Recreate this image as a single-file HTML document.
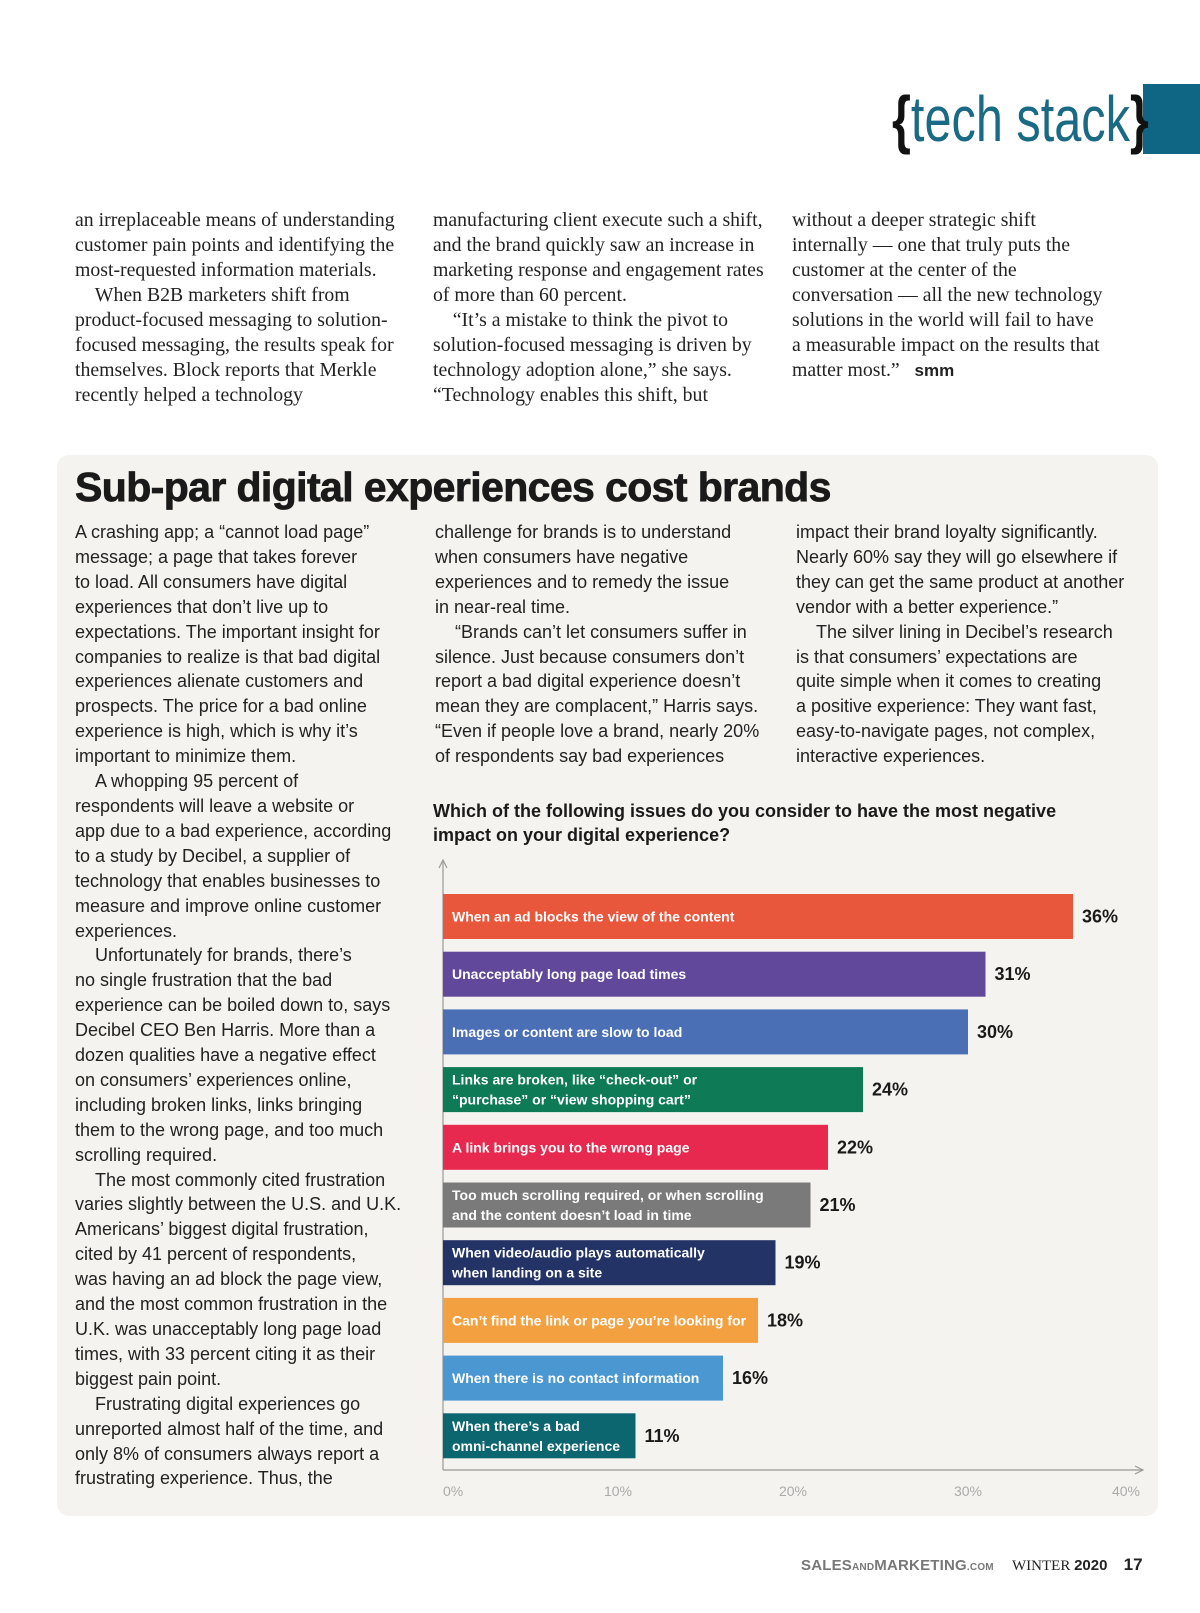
<!DOCTYPE html>
<html><head><meta charset="utf-8"><style>
body{margin:0;background:#fff;}
#page{position:relative;width:1200px;height:1613px;overflow:hidden;background:#fff;font-family:"Liberation Sans",sans-serif;}
.serif{position:absolute;font-family:"Liberation Serif",serif;font-size:19.8px;line-height:25px;color:#222;white-space:nowrap;}
.sans{position:absolute;font-family:"Liberation Sans",sans-serif;font-size:18px;line-height:24.9px;color:#222;white-space:nowrap;}
</style></head><body>
<div id="page">
<div style="position:absolute;left:1143px;top:84px;width:57px;height:70px;background:#0f6584;"></div>
<div style="position:absolute;left:892px;top:82px;font-size:64px;line-height:74px;color:#1a6a86;font-family:'Liberation Sans Narrow','Liberation Sans',sans-serif;transform:scaleX(0.76);transform-origin:left top;white-space:nowrap;"><span style="color:#111;font-weight:bold;">{</span>tech stack<span style="color:#111;font-weight:bold;">}</span></div>

<div class="serif" style="left:75px;top:208px;">an irreplaceable means of understanding<br>customer pain points and identifying the<br>most-requested information materials.<br>&nbsp;&nbsp;&nbsp;&nbsp;When B2B marketers shift from<br>product-focused messaging to solution-<br>focused messaging, the results speak for<br>themselves. Block reports that Merkle<br>recently helped a technology</div>
<div class="serif" style="left:433px;top:208px;">manufacturing client execute such a shift,<br>and the brand quickly saw an increase in<br>marketing response and engagement rates<br>of more than 60 percent.<br>&nbsp;&nbsp;&nbsp;&nbsp;“It’s a mistake to think the pivot to<br>solution-focused messaging is driven by<br>technology adoption alone,” she says.<br>“Technology enables this shift, but</div>
<div class="serif" style="left:792px;top:208px;">without a deeper strategic shift<br>internally — one that truly puts the<br>customer at the center of the<br>conversation — all the new technology<br>solutions in the world will fail to have<br>a measurable impact on the results that<br>matter most.” &nbsp;&nbsp;<b style="font-family:'Liberation Sans',sans-serif;font-size:17px;">smm</b></div>

<div style="position:absolute;left:57px;top:455px;width:1101px;height:1061px;background:#f4f3ef;border-radius:12px;"></div>
<div style="position:absolute;left:75px;top:464px;font-size:41px;font-weight:bold;color:#1a1a1a;letter-spacing:-0.6px;white-space:nowrap;-webkit-text-stroke:0.8px #1a1a1a;">Sub-par digital experiences cost brands</div>

<div class="sans" style="left:75px;top:520px;">A crashing app; a “cannot load page”<br>message; a page that takes forever<br>to load. All consumers have digital<br>experiences that don’t live up to<br>expectations. The important insight for<br>companies to realize is that bad digital<br>experiences alienate customers and<br>prospects. The price for a bad online<br>experience is high, which is why it’s<br>important to minimize them.<br>&nbsp;&nbsp;&nbsp;&nbsp;A whopping 95 percent of<br>respondents will leave a website or<br>app due to a bad experience, according<br>to a study by Decibel, a supplier of<br>technology that enables businesses to<br>measure and improve online customer<br>experiences.<br>&nbsp;&nbsp;&nbsp;&nbsp;Unfortunately for brands, there’s<br>no single frustration that the bad<br>experience can be boiled down to, says<br>Decibel CEO Ben Harris. More than a<br>dozen qualities have a negative effect<br>on consumers’ experiences online,<br>including broken links, links bringing<br>them to the wrong page, and too much<br>scrolling required.<br>&nbsp;&nbsp;&nbsp;&nbsp;The most commonly cited frustration<br>varies slightly between the U.S. and U.K.<br>Americans’ biggest digital frustration,<br>cited by 41 percent of respondents,<br>was having an ad block the page view,<br>and the most common frustration in the<br>U.K. was unacceptably long page load<br>times, with 33 percent citing it as their<br>biggest pain point.<br>&nbsp;&nbsp;&nbsp;&nbsp;Frustrating digital experiences go<br>unreported almost half of the time, and<br>only 8% of consumers always report a<br>frustrating experience. Thus, the</div>
<div class="sans" style="left:435px;top:520px;">challenge for brands is to understand<br>when consumers have negative<br>experiences and to remedy the issue<br>in near-real time.<br>&nbsp;&nbsp;&nbsp;&nbsp;“Brands can’t let consumers suffer in<br>silence. Just because consumers don’t<br>report a bad digital experience doesn’t<br>mean they are complacent,” Harris says.<br>“Even if people love a brand, nearly 20%<br>of respondents say bad experiences</div>
<div class="sans" style="left:796px;top:520px;">impact their brand loyalty significantly.<br>Nearly 60% say they will go elsewhere if<br>they can get the same product at another<br>vendor with a better experience.”<br>&nbsp;&nbsp;&nbsp;&nbsp;The silver lining in Decibel’s research<br>is that consumers’ expectations are<br>quite simple when it comes to creating<br>a positive experience: They want fast,<br>easy-to-navigate pages, not complex,<br>interactive experiences.</div>

<div style="position:absolute;left:433px;top:800px;font-size:18px;line-height:23.5px;font-weight:bold;color:#1a1a1a;white-space:nowrap;">Which of the following issues do you consider to have the most negative<br>impact on your digital experience?</div>

<svg id="chart" style="position:absolute;left:0;top:0;" width="1200" height="1613"></svg>

<div style="position:absolute;left:801px;top:1555px;white-space:nowrap;font-size:15px;line-height:20px;">
<span style="color:#777;font-weight:bold;letter-spacing:0.2px;">SALES<span style="font-size:10px;">AND</span>MARKETING<span style="font-size:10px;">.COM</span></span>
<span style="font-family:'Liberation Serif',serif;color:#222;margin-left:14px;">WINTER <b style="font-family:'Liberation Sans',sans-serif;">2020</b></span>
<span style="font-weight:bold;color:#222;font-size:17px;margin-left:12px;">17</span>
</div>
</div>
<script>
const categories = [
 ["When an ad blocks the view of the content"],
 ["Unacceptably long page load times"],
 ["Images or content are slow to load"],
 ["Links are broken, like “check-out” or","“purchase”  or “view shopping cart”"],
 ["A link brings you to the wrong page"],
 ["Too much scrolling required, or when scrolling","and the content doesn’t load in time"],
 ["When video/audio plays automatically","when landing on a site"],
 ["Can’t find the link or page you’re looking for"],
 ["When there is no contact  information"],
 ["When there’s a bad","omni-channel experience"]
];
const values = [36,31,30,24,22,21,19,18,16,11];
const valueLabels = ["36%","31%","30%","24%","22%","21%","19%","18%","16%","11%"];
const tickValues = [0,10,20,30,40];
const tickLabels = ["0%","10%","20%","30%","40%"];
const colors = ["#e8573c","#62489a","#4a6fb5","#0e7a56","#e8294f","#7a7a7a","#233366","#f3a040","#4a97d2","#0c6670"];

const svg = document.getElementById('chart');
const NS = 'http://www.w3.org/2000/svg';
const x0 = 443, x40 = 1143, yTop = 894, pitch = 57.7, barH = 45;
function xScale(v){ return x0 + (v/40)*(x40-x0); }
function yScale(i){ return yTop + i*pitch; }
function mk(tag, attrs){ const e=document.createElementNS(NS,tag); for(const k in attrs) e.setAttribute(k,attrs[k]); svg.appendChild(e); return e; }

const ya = mk('line',{x1:x0,y1:862,x2:x0,y2:1470,stroke:'#999','stroke-width':1.2});


const ya2 = mk('path',{d:`M${x0-4},868 L${x0},860 L${x0+4},868`,fill:'none',stroke:'#999','stroke-width':1.2});


const xa = mk('line',{x1:x0,y1:1470,x2:x40,y2:1470,stroke:'#999','stroke-width':1.2});


const xa2 = mk('path',{d:`M${x40-8},1466 L${x40},1470 L${x40-8},1474`,fill:'none',stroke:'#999','stroke-width':1.2});



tickValues.forEach((t,i)=>{
  let x = xScale(t);
  let anchor = i===0?'start':(i===tickValues.length-1?'end':'middle');
  const tx = mk('text',{x:i===tickValues.length-1?x-3:x,y:1496,'font-size':14,fill:'#aaa','text-anchor':anchor,'font-family':'Liberation Sans, sans-serif'});
  tx.textContent = tickLabels[i];
  
  
});

values.forEach((v,i)=>{
  const y = yScale(i);
  const r = mk('rect',{x:x0,y:y,width:xScale(v)-x0,height:barH,fill:colors[i]});
  
  
  const lines = categories[i];
  lines.forEach((ln,j)=>{
    const cy = y + barH/2 + (lines.length===1?0:(j===0?-10:10)) + 5;
    const t = mk('text',{x:x0+9,y:cy,'font-size':14,fill:'#fff','font-weight':'bold','font-family':'Liberation Sans, sans-serif'});
    t.textContent = ln;
    
    
  });
  const vl = mk('text',{x:xScale(v)+9,y:y+barH/2+6,'font-size':18,fill:'#1a1a1a','font-weight':'bold','font-family':'Liberation Sans, sans-serif'});
  vl.textContent = valueLabels[i];
  
  
});
</script>
</body></html>
